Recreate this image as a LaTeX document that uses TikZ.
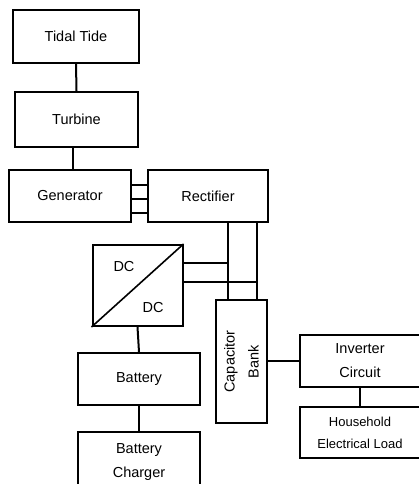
\documentclass[tikz,border=0pt]{standalone}
\usepackage{fontspec}
\setmainfont{Liberation Sans}
\begin{document}
\begin{tikzpicture}[x=1pt,y=-1pt,
  txt/.style={font=\fontsize{14.5}{24}\selectfont,align=center,inner sep=0pt},
  blk/.style={draw=black,line width=2pt,fill=white,inner sep=0pt,txt},
  wire/.style={line width=2pt,draw=black}]
\useasboundingbox (0,0) rectangle (419,484);
\clip (0,0) rectangle (419,484);
% boxes (centre, size)
\node[blk,minimum width=126pt,minimum height=53pt] (tide) at (76,36.5) {Tidal Tide};
\node[blk,minimum width=123pt,minimum height=55pt] (turb) at (76.5,119.5) {Turbine};
\node[blk,minimum width=122pt,minimum height=52pt] (gen) at (70,196) {Generator};
\node[blk,minimum width=120pt,minimum height=52pt] (rect) at (208,196) {Rectifier};
\node[blk,minimum width=90pt,minimum height=81pt] (dcdc) at (137.5,285.5) {};
\draw[line width=1.6pt] (dcdc.south west) -- (dcdc.north east);
\node[txt] (dca) at (124,267) {DC};
\node[txt] (dcb) at (153,308) {DC};
\node[blk,minimum width=122pt,minimum height=52pt] (bat) at (139,379) {Battery};
\node[blk,minimum width=122pt,minimum height=60pt] (chg) at (139,462) {Battery\\Charger};
\node[blk,minimum width=51pt,minimum height=123pt] (cap) at (241.5,361.5) {};
\node[txt,rotate=90] (captxt) at (cap.center) {Capacitor\\Bank};
\node[blk,minimum width=121pt,minimum height=52pt] (inv) at (360,361) {Inverter\\Circuit};
\node[blk,minimum width=121pt,minimum height=51pt,font=\fontsize{13}{22}\selectfont] (load) at (360,432.5) {Household\\Electrical Load};
% connectors
\draw[wire] (tide.south) -- (turb.north);
\draw[wire] (turb.south -| 73,0) -- (gen.north -| 73,0);
\draw[wire] (gen.east |- 0,185) -- (rect.west |- 0,185);
\draw[wire] (gen.east |- 0,199) -- (rect.west |- 0,199);
\draw[wire] (gen.east |- 0,213) -- (rect.west |- 0,213);
\coordinate (j1) at (228,263);
\coordinate (j2) at (257,282);
\draw[wire] (rect.south -| j1) -- (cap.north -| j1);
\draw[wire] (rect.south -| j2) -- (cap.north -| j2);
\draw[wire] (dcdc.east |- j1) -- (j1);
\draw[wire] (dcdc.east |- j2) -- (j2);
\draw[wire] (dcdc.south) -- (bat.north);
\draw[wire] (bat.south) -- (chg.north);
\draw[wire] (cap.east |- inv.west) -- (inv.west);
\draw[wire] (inv.south) -- (load.north);
\end{tikzpicture}
\end{document}
